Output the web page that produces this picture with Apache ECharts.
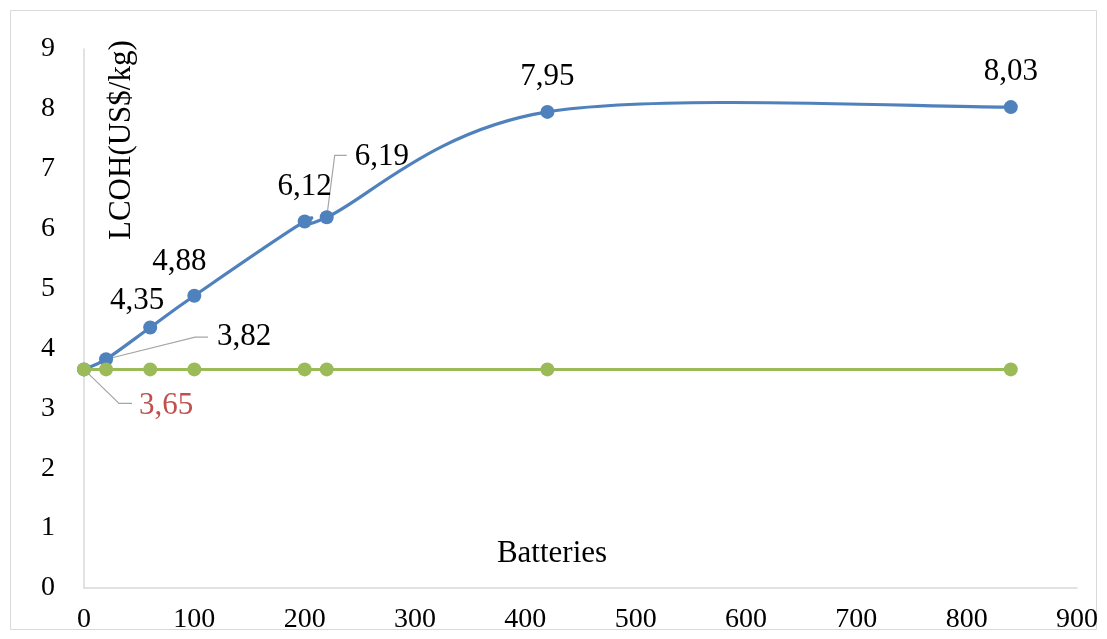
<!DOCTYPE html>
<html>
<head>
<meta charset="utf-8">
<script src="https://cdn.jsdelivr.net/npm/echarts@6/dist/echarts.min.js"></script>
<style>html,body{margin:0;padding:0;background:#fff}#c{width:1107px;height:639px}</style>
</head>
<body>
<div id="c"></div>
<script>
// ---- data ----
const batteries = [0, 20, 60, 100, 200, 220, 420, 840];
const lcohBatteries = [3.65, 3.82, 4.35, 4.88, 6.12, 6.19, 7.95, 8.03];
const lcohBase = [3.65, 3.65, 3.65, 3.65, 3.65, 3.65, 3.65, 3.65];
const xTicks = [0, 100, 200, 300, 400, 500, 600, 700, 800, 900];
const yTicks = [0, 1, 2, 3, 4, 5, 6, 7, 8, 9];
const xName = 'Batteries';
const yName = 'LCOH(US$/kg)';

// ---- style ----
const FONT = '"Liberation Serif", "Times New Roman", serif';
const FS_TICK = 28;
const FS = 31;
const BLUE = '#4F81BD', GREEN = '#9BBB59', RED = '#C0504D', GRAY = '#D9D9D9';
const fmt = v => v.toFixed(2).replace('.', ',');

// labels shown directly above points (index -> offset in px from point centre)
const directLabelOffsets = {2: [-13, -27], 3: [-15, -34], 4: [0, -35], 6: [0, -35], 7: [0, -35]};
// callout labels: series, index, leader path (px relative to point), text anchor, colour
const callouts = [
  {s: 'blue', i: 1, path: [[0, 0], [89, -22], [102, -22]], text: [111, -22], color: '#000'},
  {s: 'blue', i: 5, path: [[0, 0], [8, -62], [20, -62]], text: [28, -60], color: '#000'},
  {s: 'green', i: 0, path: [[0, 0], [35, 34], [48, 34]], text: [55, 36], color: RED}
];

const blueData = batteries.map((x, i) => {
  const item = {value: [x, lcohBatteries[i]]};
  if (directLabelOffsets[i]) {
    item.label = {show: true, position: 'inside', offset: directLabelOffsets[i],
      formatter: fmt(lcohBatteries[i]), fontFamily: FONT, fontSize: FS, color: '#000'};
  }
  return item;
});
const greenData = batteries.map((x, i) => [x, lcohBase[i]]);
const curveData = batteries.map((x, i) => [x, lcohBatteries[i], i]);

const calloutData = callouts.map((c, k) => {
  const xs = batteries[c.i];
  const ys = c.s === 'blue' ? lcohBatteries[c.i] : lcohBase[c.i];
  return [xs, ys, k];
});

const chart = echarts.init(document.getElementById('c'), null, {renderer: 'canvas'});
chart.setOption({
  animation: false,
  backgroundColor: '#fff',
  graphic: [
    {type: 'rect', shape: {x: 10.5, y: 10.5, width: 1086, height: 619},
      style: {fill: 'none', stroke: GRAY, lineWidth: 1}, z: -10},
    {type: 'text', rotation: Math.PI / 2, x: 106, y: 240,
      style: {text: yName, font: FS + 'px ' + FONT, fill: '#000', textAlign: 'left', textVerticalAlign: 'top'}}
  ],
  grid: {left: 84, right: 30, top: 49, bottom: 51, containLabel: false},
  xAxis: {
    type: 'value', min: xTicks[0], max: xTicks[xTicks.length - 1], interval: 100,
    name: xName, nameLocation: 'middle', nameGap: -50,
    nameTextStyle: {fontFamily: FONT, fontSize: FS, color: '#000', padding: [0, 57, 0, 0]},
    axisLine: {show: true, lineStyle: {color: GRAY, width: 1.5}},
    axisTick: {show: false}, splitLine: {show: false},
    axisLabel: {fontFamily: FONT, fontSize: FS_TICK, color: '#000', margin: 18}
  },
  yAxis: {
    type: 'value', min: yTicks[0], max: yTicks[yTicks.length - 1], interval: 1,
    axisLine: {show: true, lineStyle: {color: GRAY, width: 1.5}},
    axisTick: {show: false}, splitLine: {show: false},
    axisLabel: {fontFamily: FONT, fontSize: FS_TICK, color: '#000', margin: 29}
  },
  series: [
    {
      type: 'custom', z: 1, silent: true,
      data: calloutData,
      renderItem: function (params, api) {
        const c = callouts[api.value(2)];
        const p = api.coord([api.value(0), api.value(1)]);
        return {type: 'group', children: [
          {type: 'polyline', shape: {points: c.path.map(q => [p[0] + q[0], p[1] + q[1]])},
            style: {stroke: '#A6A6A6', lineWidth: 1.2, fill: 'none'}},
          {type: 'text', x: p[0] + c.text[0], y: p[1] + c.text[1],
            style: {text: fmt(api.value(1)), fill: c.color, font: FS + 'px ' + FONT,
              textAlign: 'left', textVerticalAlign: 'middle'}}
        ]};
      }
    },
    {
      // smoothed (Catmull-Rom style bezier) connecting line of the blue series
      type: 'custom', z: 2, silent: true,
      data: curveData,
      renderItem: function (params, api) {
        const i = api.value(2);
        const n = batteries.length;
        if (i >= n - 1) return null;
        const P = k => api.coord([batteries[Math.max(0, Math.min(n - 1, k))], lcohBatteries[Math.max(0, Math.min(n - 1, k))]]);
        const p0 = P(i - 1), p1 = P(i), p2 = P(i + 1), p3 = P(i + 2);
        const c1 = [p1[0] + (p2[0] - p0[0]) / 6, p1[1] + (p2[1] - p0[1]) / 6];
        const c2 = [p2[0] - (p3[0] - p1[0]) / 6, p2[1] - (p3[1] - p1[1]) / 6];
        return {type: 'bezierCurve',
          shape: {x1: p1[0], y1: p1[1], cpx1: c1[0], cpy1: c1[1], cpx2: c2[0], cpy2: c2[1], x2: p2[0], y2: p2[1]},
          style: {stroke: BLUE, lineWidth: 3.2, fill: 'none', lineCap: 'round'}};
      }
    },
    {
      name: 'Batteries', type: 'line', z: 3,
      data: blueData, symbol: 'circle', symbolSize: 14,
      lineStyle: {color: BLUE, width: 0, opacity: 0}, itemStyle: {color: BLUE}
    },
    {
      name: 'Base', type: 'line', z: 4,
      data: greenData, symbol: 'circle', symbolSize: 14,
      lineStyle: {color: GREEN, width: 3}, itemStyle: {color: GREEN}
    }
  ]
});
</script>
</body>
</html>
